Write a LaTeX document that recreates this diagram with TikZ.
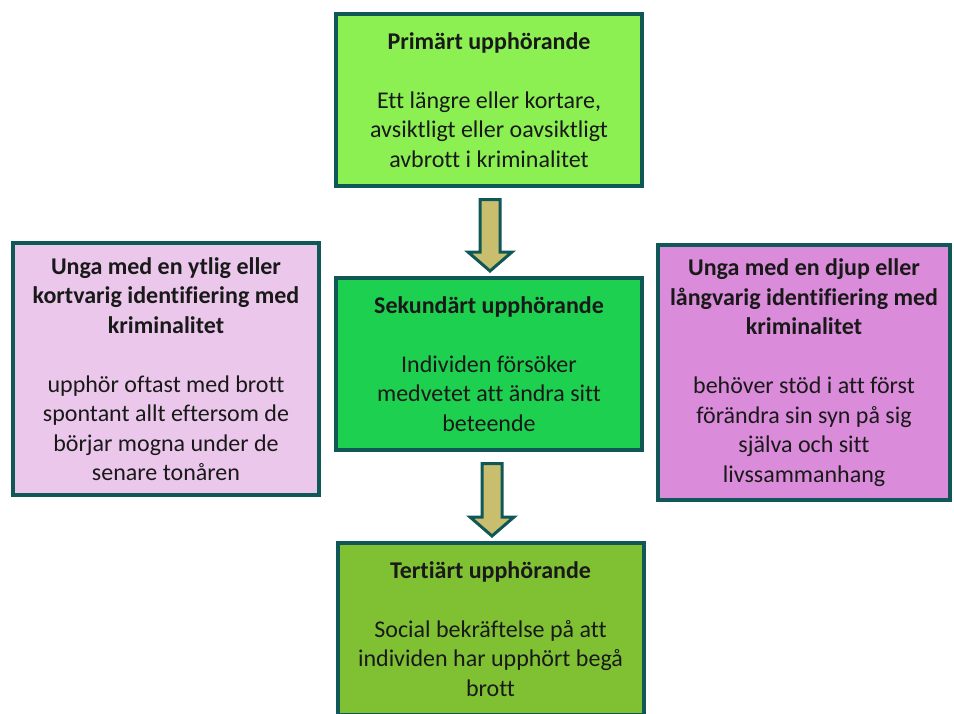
\documentclass[tikz,border=0pt]{standalone}
\usepackage{fontspec}
\setmainfont{Carlito}[Ligatures=NoCommon]
\usetikzlibrary{positioning,calc}
\definecolor{edgeteal}{RGB}{16,88,88}
\definecolor{textgray}{RGB}{25,25,25}
\definecolor{primgreen}{RGB}{140,240,82}
\definecolor{sekgreen}{RGB}{30,208,80}
\definecolor{tertgreen}{RGB}{128,193,52}
\definecolor{ytligpink}{RGB}{235,200,235}
\definecolor{djuppink}{RGB}{218,140,218}
\definecolor{arrowkhaki}{RGB}{200,190,110}
\newcommand{\stagearrow}[3][0pt]{%
  \draw[stagearrow] let \p1=($(#2.south)+(#1,-11.5)$), \p2=($(#3.north)+(#1,5)$) in
    (\x1-10pt,\y1) -- (\x1+10pt,\y1) -- (\x1+10pt,\y2+19pt) -- (\x1+22pt,\y2+19pt)
    -- (\x1,\y2) -- (\x1-22pt,\y2+19pt) -- (\x1-10pt,\y2+19pt) -- cycle;}
\begin{document}
\begin{tikzpicture}[x=1pt, y=1pt,
	stage/.style={rectangle, draw=edgeteal, line width=4pt, minimum width=306pt, minimum height=172pt, inner sep=0pt, align=center, text=textgray, font=\fontsize{24}{29.5}\selectfont},
	stagearrow/.style={draw=edgeteal, fill=arrowkhaki, line width=3pt, line join=miter},
]
\clip (0,0) rectangle (954,-713);
\node[stage, fill=primgreen] (prim) at (489,-100) {\textbf{Primärt upphörande}\\[29.5pt]Ett längre eller kortare,\\avsiktligt eller oavsiktligt\\avbrott i kriminalitet};
\node[stage, fill=sekgreen] (sek) [below=88pt of prim] {\textbf{Sekundärt upphörande}\\[29.5pt]Individen försöker\\medvetet att ändra sitt\\beteende};
\node[stage, fill=tertgreen] (tert) [below=89pt of sek, xshift=1.5pt] {\textbf{Tertiärt upphörande}\\[29.5pt]Social bekräftelse på att\\individen har upphört begå\\brott};
\node[stage, fill=ytligpink, minimum height=252pt] (ytlig) [left=13pt of sek, yshift=-5pt] {\textbf{Unga med en ytlig eller}\\\textbf{kortvarig identifiering med}\\\textbf{kriminalitet}\\[29.5pt]upphör oftast med brott\\spontant allt eftersom de\\börjar mogna under de\\senare tonåren};
\node[stage, fill=djuppink, minimum width=292pt, minimum height=255pt] (djup) [right=12pt of sek, yshift=-8.5pt] {\textbf{Unga med en djup eller}\\\textbf{långvarig identifiering med}\\\textbf{kriminalitet}\\[29.5pt]behöver stöd i att först\\förändra sin syn på sig\\själva och sitt\\livssammanhang};

\stagearrow[1pt]{prim}{sek}
\stagearrow[3pt]{sek}{tert}
\end{tikzpicture}
\end{document}
